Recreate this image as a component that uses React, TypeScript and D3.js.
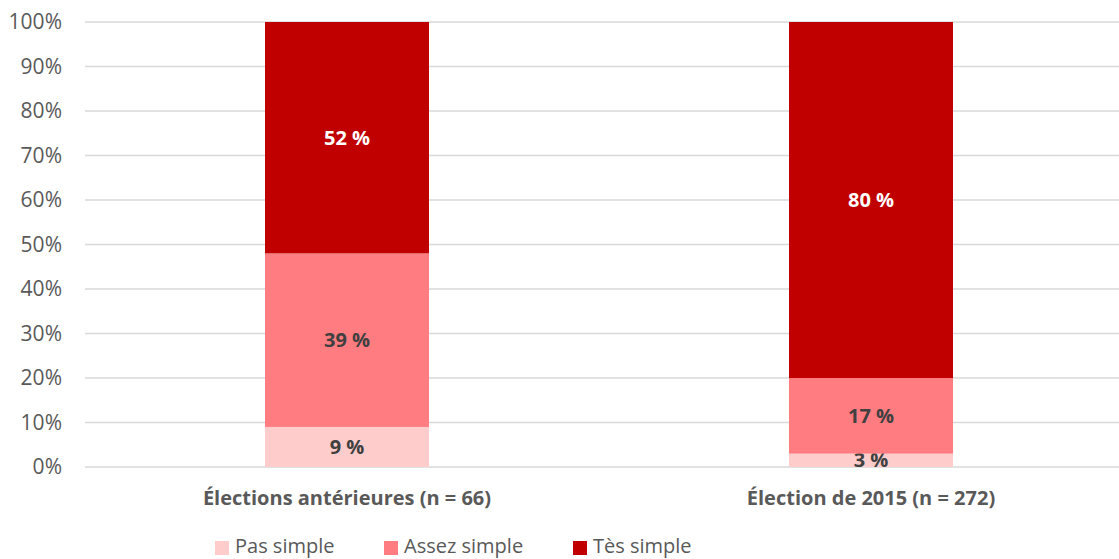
import React from "react";
import * as d3 from "d3";

const categories = ["Élections antérieures (n = 66)", "Élection de 2015 (n = 272)"];
const seriesNames = ["Pas simple", "Assez simple", "Tès simple"];
const pasSimple = [9, 3];
const assezSimple = [39, 17];
const tresSimple = [52, 80];
const yTicks = [0, 10, 20, 30, 40, 50, 60, 70, 80, 90, 100];
const colors = ["#FFCCCC", "#FF7C80", "#C00000"];
const labelColors = ["#404040", "#404040", "#FFFFFF"];

const W = 1119;
const H = 559;
const FONT = "'Open Sans', sans-serif";

export default function App() {
  const values = [pasSimple, assezSimple, tresSimple];
  const rows = categories.map((c, i) => {
    const r: Record<string, number | string> = { cat: c };
    seriesNames.forEach((s, k) => (r[s] = values[k][i]));
    return r;
  });
  const stacked = d3.stack<any>().keys(seriesNames)(rows);

  const x = d3
    .scaleBand<string>()
    .domain(categories)
    .range([85, 1133])
    .paddingInner(0.687)
    .paddingOuter(0.687 / 2);
  const y = d3.scaleLinear().domain([0, 100]).range([467, 22]);

  const legendX = [215, 384, 573];

  return (
    <svg width={W} height={H} style={{ position: "absolute", left: 0, top: 0 }} fontFamily={FONT}>
      <rect width={W} height={H} fill="#fff" />
      {yTicks.map((t) => (
        <g key={t}>
          <line x1={85} x2={W} y1={y(t)} y2={y(t)} stroke="#D9D9D9" strokeWidth={1.5} />
          <text x={62} y={y(t)} dy="0.35em" textAnchor="end" fontSize={21} fill="#595959">
            {t}%
          </text>
        </g>
      ))}
      {stacked.map((layer, k) => (
        <g key={layer.key}>
          {layer.map((d, i) => {
            const x0 = x(categories[i])!;
            const top = y(d[1]);
            const bottom = y(d[0]);
            return (
              <g key={i}>
                <rect x={x0} y={top} width={x.bandwidth()} height={bottom - top} fill={colors[k]} />
                <text
                  x={x0 + x.bandwidth() / 2}
                  y={(top + bottom) / 2}
                  dy="0.35em"
                  textAnchor="middle"
                  fontSize={20}
                  fontWeight="bold"
                  fill={labelColors[k]}
                >
                  {values[k][i]} %
                </text>
              </g>
            );
          })}
        </g>
      ))}
      {categories.map((c) => (
        <text
          key={c}
          x={x(c)! + x.bandwidth() / 2}
          y={498}
          dy="0.35em"
          textAnchor="middle"
          fontSize={20}
          fontWeight="bold"
          fill="#595959"
        >
          {c}
        </text>
      ))}
      {seriesNames.map((s, k) => (
        <g key={s}>
          <rect x={legendX[k]} y={541} width={14} height={14} fill={colors[k]} />
          <text x={legendX[k] + 20} y={553} fontSize={20} fill="#595959">
            {s}
          </text>
        </g>
      ))}
    </svg>
  );
}
